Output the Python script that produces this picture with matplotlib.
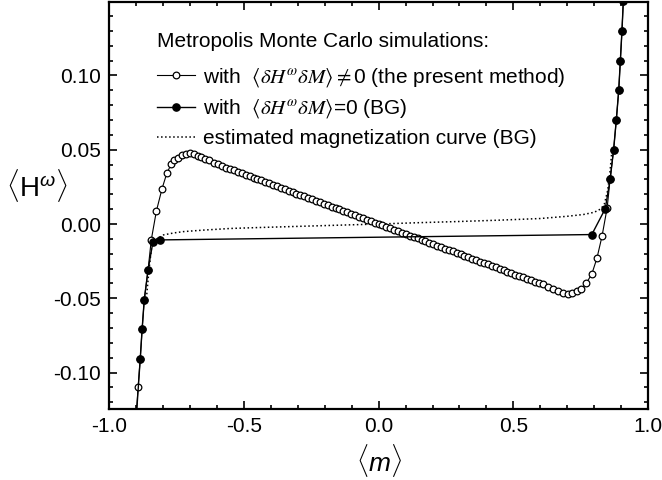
import matplotlib
matplotlib.use("Agg")
import matplotlib.pyplot as plt
from matplotlib.ticker import MultipleLocator, FormatStrFormatter

plt.rcParams['font.family'] = ['Liberation Sans', 'DejaVu Sans']
plt.rcParams['mathtext.fontset'] = 'custom'
plt.rcParams['mathtext.rm'] = 'Liberation Sans'
plt.rcParams['mathtext.it'] = 'Liberation Sans:italic'
plt.rcParams['mathtext.bf'] = 'Liberation Sans:bold'
plt.rcParams['axes.unicode_minus'] = False

# --- data: Metropolis MC with <dH dM> != 0 (present method), open circles
open_m = [-0.906, -0.900, -0.893, -0.885, -0.878, -0.870, -0.856, -0.844, -0.825, -0.804,
          -0.786, -0.770, -0.758, -0.745, -0.730, -0.716, -0.701, -0.687, -0.672, -0.658,
          -0.643, -0.628, -0.612, -0.597, -0.582,
          -0.566, -0.5515, -0.537, -0.5225, -0.508, -0.4935, -0.479, -0.4645, -0.450, -0.4355,
          -0.421, -0.4065, -0.392, -0.3775, -0.363, -0.3485, -0.334, -0.3195, -0.305, -0.2905,
          -0.276, -0.2615, -0.247, -0.2325, -0.218, -0.2035, -0.189, -0.1745, -0.160, -0.1455,
          -0.131, -0.1165, -0.102, -0.0875, -0.073, -0.0585, -0.044, -0.0295, -0.015, -0.0005,
          0.014, 0.0285, 0.043, 0.0575, 0.072, 0.0865, 0.101, 0.1155, 0.130, 0.1445,
          0.159, 0.1735, 0.188, 0.2025, 0.217, 0.2315, 0.246, 0.2605, 0.275, 0.2895,
          0.304, 0.3185, 0.333, 0.3475, 0.362, 0.3765, 0.391, 0.4055, 0.420, 0.4345,
          0.449, 0.4635, 0.478, 0.4925, 0.507, 0.5215, 0.536, 0.5505, 0.565, 0.5795,
          0.594, 0.6085,
          0.627, 0.646, 0.664, 0.683, 0.701, 0.717, 0.736, 0.751, 0.770, 0.791,
          0.810, 0.829, 0.848, 0.859, 0.872, 0.882, 0.891, 0.897, 0.903, 0.908, 0.913]
open_h = [-0.150, -0.130, -0.110, -0.091, -0.071, -0.051, -0.031, -0.0107, 0.0087, 0.0238,
          0.0343, 0.0402, 0.0434, 0.0447, 0.0467, 0.0474, 0.0478, 0.0474, 0.0461, 0.0452,
          0.0440, 0.0429, 0.0413, 0.0404, 0.0393,
          0.0380, 0.0371, 0.0361, 0.0351, 0.0342, 0.0332, 0.0322, 0.0312, 0.0303, 0.0293,
          0.0283, 0.0273, 0.0264, 0.0254, 0.0244, 0.0234, 0.0225, 0.0215, 0.0205, 0.0195,
          0.0186, 0.0176, 0.0166, 0.0156, 0.0147, 0.0137, 0.0127, 0.0117, 0.0108, 0.0098,
          0.0088, 0.0078, 0.0069, 0.0059, 0.0049, 0.0039, 0.0030, 0.0020, 0.0010, 0.0000,
          -0.0009, -0.0019, -0.0029, -0.0039, -0.0048, -0.0058, -0.0068, -0.0078, -0.0087, -0.0097,
          -0.0107, -0.0117, -0.0126, -0.0136, -0.0146, -0.0156, -0.0165, -0.0175, -0.0185, -0.0195,
          -0.0204, -0.0214, -0.0224, -0.0234, -0.0243, -0.0253, -0.0263, -0.0272, -0.0282, -0.0292,
          -0.0301, -0.0311, -0.0321, -0.0330, -0.0340, -0.0350, -0.0359, -0.0369, -0.0378, -0.0387,
          -0.0396, -0.0404,
          -0.0422, -0.0438, -0.0449, -0.0465, -0.0472, -0.0465, -0.0449, -0.0438, -0.0400, -0.0337,
          -0.0231, -0.0082, 0.0109, 0.030, 0.050, 0.070, 0.090, 0.110, 0.130, 0.150, 0.170]

# --- data: Metropolis MC with <dH dM> = 0 (BG), filled circles
bg_m = [-0.906, -0.900, -0.885, -0.878, -0.870, -0.856, -0.838, -0.810,
        0.791, 0.841, 0.859, 0.872, 0.882, 0.891, 0.897, 0.903, 0.908, 0.913]
bg_h = [-0.151, -0.131, -0.091, -0.071, -0.051, -0.031, -0.0123, -0.0107,
        -0.0071, 0.0103, 0.030, 0.050, 0.070, 0.090, 0.110, 0.130, 0.150, 0.170]

# --- data: estimated magnetization curve (BG), dotted
est_m = [-0.862, -0.852, -0.843, -0.835, -0.817, -0.798, -0.760, -0.724, -0.650, -0.550,
         -0.450, -0.300, -0.150, 0.000, 0.150, 0.300, 0.450, 0.600, 0.700, 0.760,
         0.800, 0.825, 0.838, 0.850, 0.858, 0.866]
est_h = [-0.050, -0.030, -0.016, -0.0115, -0.0093, -0.0073, -0.0060, -0.0051, -0.0041, -0.0030,
         -0.0024, -0.0016, -0.0008, 0.0000, 0.0009, 0.0017, 0.0026, 0.0037, 0.0052, 0.0064,
         0.0079, 0.0102, 0.0136, 0.0226, 0.034, 0.050]

legend_title = 'Metropolis Monte Carlo simulations:'
series_labels = [r'with  $\langle\delta H^{\omega}\delta M\rangle$$\neq$0 (the present method)',
                 r'with  $\langle\delta H^{\omega}\delta M\rangle$=0 (BG)',
                 'estimated magnetization curve (BG)']

fig = plt.figure(figsize=(6.62, 4.8), dpi=100)
ax = fig.add_axes([0.165, 0.148, 0.814, 0.848])

l_open, = ax.plot(open_m, open_h, '-', color='black', lw=0.8, marker='o', ms=4.8,
                  mfc='white', mec='black', mew=0.9, zorder=3, label=series_labels[0])
l_bg, = ax.plot(bg_m, bg_h, '-', color='black', lw=1.0, marker='o', ms=5.2,
                mfc='black', mec='black', zorder=4, label=series_labels[1])
l_est, = ax.plot(est_m, est_h, ':', color='black', lw=1.1, zorder=2, label=series_labels[2])

ax.set_xlim(-1.0, 1.0)
ax.set_ylim(-0.1245, 0.1495)
ax.xaxis.set_major_locator(MultipleLocator(0.5))
ax.xaxis.set_minor_locator(MultipleLocator(0.1))
ax.yaxis.set_major_locator(MultipleLocator(0.05))
ax.yaxis.set_minor_locator(MultipleLocator(0.01))
ax.xaxis.set_major_formatter(FormatStrFormatter('%.1f'))
ax.yaxis.set_major_formatter(FormatStrFormatter('%.2f'))

for s in ax.spines.values():
    s.set_linewidth(1.6)
ax.tick_params(which='both', direction='in', top=True, right=True, width=1.2, labelsize=15)
ax.tick_params(which='major', length=6, pad=6)
ax.tick_params(which='minor', length=3)

ax.set_xlabel(r'$\langle m\rangle$', fontsize=19, labelpad=4)
ax.text(-0.134, 0.55, r'$\langle\mathrm{H}^{\omega}\rangle$', transform=ax.transAxes,
        fontsize=20, ha='center', va='center')

ax.text(0.089, 0.902, legend_title, transform=ax.transAxes, fontsize=15,
        ha='left', va='center')
leg = ax.legend(handles=[l_open, l_bg, l_est],
                loc='upper left', bbox_to_anchor=(0.089, 0.843), frameon=False,
                prop=dict(size=15, math_fontfamily='stix'), handlelength=1.8,
                handletextpad=0.4, labelspacing=0.42, borderpad=0, borderaxespad=0)

fig.savefig('out.png', dpi=100)
